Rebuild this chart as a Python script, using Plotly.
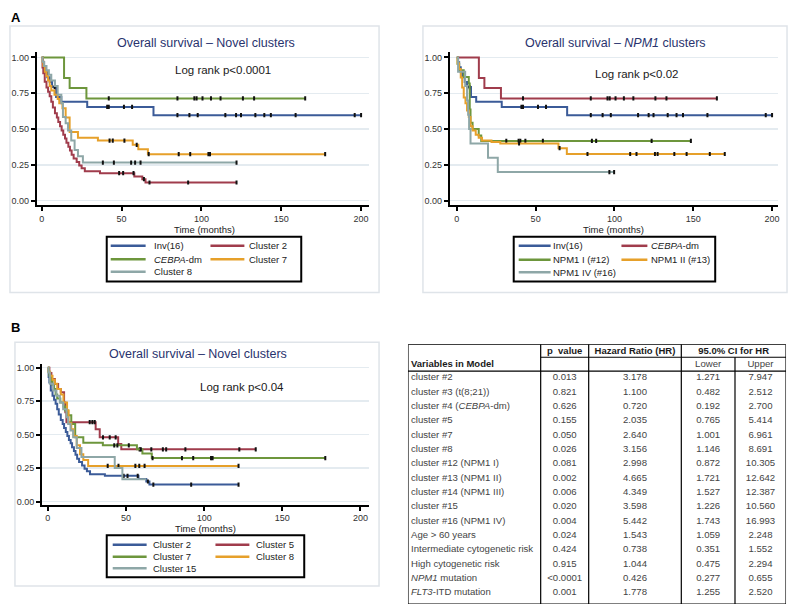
import numpy as np
import plotly.graph_objects as go

W, H = 800, 612

# ---------------- DATA ----------------
# Kaplan-Meier step data: event times (months) and survival after each step
inv16_t = [0, 0.8, 1.5, 2.5, 3.5, 5, 6.5, 9, 12.3, 28.5, 70]
inv16_s = [1.0, 0.966, 0.931, 0.897, 0.862, 0.828, 0.793, 0.724, 0.69, 0.655, 0.597]
inv16_c = [8.1, 41.0, 42.0, 51.5, 56.6, 85, 92.5, 97.7, 115, 121.7, 124.8, 133.8, 139.4, 143.5, 159, 196, 200]
inv16_last = 200

cebpa_t = [0, 14, 17.5, 28]
cebpa_s = [1.0, 0.857, 0.786, 0.714]
cebpa_c = [42, 85, 95.6, 97, 100.7, 106, 112, 126, 133, 165]
cebpa_last = 165

cl2_t = [0, 0.5, 1, 1.9, 3, 4, 5, 6, 7, 8.3, 9.5, 10.4, 11.5, 12.5, 13.5, 14.6, 15.5, 16.7,
         17.7, 18.75, 20, 21.9, 23.5, 25, 27, 36.5, 58, 63, 65]
cl2_s = [1.0, 0.93, 0.89, 0.83, 0.79, 0.76, 0.73, 0.69, 0.65, 0.61, 0.58, 0.55, 0.52, 0.49, 0.46,
         0.435, 0.405, 0.377, 0.35, 0.32, 0.295, 0.27, 0.245, 0.227, 0.205, 0.192, 0.169, 0.15, 0.127]
cl2_c = [48.5, 51, 57.5, 64, 67.5, 91.7, 122]
cl2_last = 122

cl7_t = [0, 0.5, 1, 2, 3, 4, 5, 6, 8, 10, 11, 13, 15, 17.5, 22.7, 35.2, 57, 60.5, 66.5]
cl7_s = [1.0, 0.97, 0.94, 0.9, 0.87, 0.84, 0.8, 0.77, 0.74, 0.71, 0.68, 0.645, 0.58, 0.48, 0.44,
         0.42, 0.39, 0.36, 0.325]
cl7_c = [42.5, 44.5, 51.8, 59.5, 67, 85.8, 93, 104.4, 105.4, 177.5]
cl7_last = 177.5

cl8_t = [0, 0.5, 1.5, 3, 4.5, 6, 8.3, 10, 12.3, 13.3, 15, 16.5, 18.5, 20.6, 22.7, 25.8]
cl8_s = [1.0, 0.97, 0.94, 0.91, 0.88, 0.84, 0.8, 0.74, 0.68, 0.585, 0.54, 0.49, 0.42, 0.354, 0.31, 0.266]
cl8_c = [38.3, 45.2, 56, 58.5, 61.9, 122]
cl8_last = 122

cl5_t = [0, 1, 2.3, 4.5, 6.6, 8.3, 10.4, 11.2, 11.9, 30.6, 33.2, 45, 47]
cl5_s = [1.0, 0.96, 0.915, 0.878, 0.84, 0.816, 0.74, 0.667, 0.593, 0.54, 0.48, 0.43, 0.39]
cl5_c = [26.8, 28.5, 30, 35.3, 39.6, 43.4, 58.7, 66.2, 73.6, 75.7, 88, 122.5, 133]
cl5_last = 133

cl15_t = [0, 0.5, 1.3, 3.4, 5.5, 7.7, 9.8, 11.9, 13, 14.5, 16.2, 18.5, 21.5, 42.8, 47.7]
cl15_s = [1.0, 0.965, 0.88, 0.83, 0.79, 0.74, 0.69, 0.63, 0.58, 0.53, 0.48, 0.4, 0.332, 0.25, 0.166]
cl15_c = []
cl15_last = 63

npm1i_t = [0, 0.5, 1.5, 4.4, 7.6, 8.2, 8.7, 10, 13.9, 15.5]
npm1i_s = [1.0, 0.955, 0.91, 0.864, 0.818, 0.636, 0.545, 0.5, 0.455, 0.417]
npm1i_c = [31.4, 39.2, 40.3, 43.5, 54.6, 85.7, 88.4, 123.6, 148.5]
npm1i_last = 148.5

npm1ii_t = [0, 0.5, 1.4, 2.5, 3.4, 4.4, 5.5, 6.5, 7.6, 8.7, 10, 12, 13.9, 16, 22, 27.6, 64.5, 69.8]
npm1ii_s = [1.0, 0.96, 0.92, 0.86, 0.79, 0.72, 0.68, 0.63, 0.585, 0.52, 0.49, 0.46, 0.44, 0.42,
            0.41, 0.40, 0.367, 0.326]
npm1ii_c = [39.5, 65.2, 82.9, 110, 114, 125.7, 127.4, 138, 145.8, 160.5, 170]
npm1ii_last = 170

npm1iv_t = [0, 0.8, 5.3, 6.5, 7.2, 7.8, 8.7, 19.8, 26]
npm1iv_s = [1.0, 0.9, 0.8, 0.7, 0.6, 0.5, 0.4, 0.3, 0.2]
npm1iv_c = [96.8, 99.8]
npm1iv_last = 99.8

# Cox model table
table_header = ["p  value", "Hazard Ratio (HR)", "95.0% CI for HR"]
table_subheader = ["Lower", "Upper"]
variables = ["cluster #2", "cluster #3 (t(8;21))", "cluster #4 (<i>CEBPA</i>-dm)", "cluster #5",
             "cluster #7", "cluster #8", "cluster #12 (NPM1 I)", "cluster #13 (NPM1 II)",
             "cluster #14 (NPM1 III)", "cluster #15", "cluster #16 (NPM1 IV)", "Age &gt; 60 years",
             "Intermediate cytogenetic risk", "High cytogenetic risk", "<i>NPM1</i> mutation",
             "<i>FLT3</i>-ITD mutation"]
p_values = ["0.013", "0.821", "0.626", "0.155", "0.050", "0.026", "0.081", "0.002", "0.006",
            "0.020", "0.004", "0.024", "0.424", "0.915", "&lt;0.0001", "0.001"]
hazard_ratio = ["3.178", "1.100", "0.720", "2.035", "2.640", "3.156", "2.998", "4.665", "4.349",
                "3.598", "5.442", "1.543", "0.738", "1.044", "0.426", "1.778"]
ci_lower = ["1.271", "0.482", "0.192", "0.765", "1.001", "1.146", "0.872", "1.721", "1.527",
            "1.226", "1.743", "1.059", "0.351", "0.475", "0.277", "1.255"]
ci_upper = ["7.947", "2.512", "2.700", "5.414", "6.961", "8.691", "10.305", "12.642", "12.387",
            "10.560", "16.993", "2.248", "1.552", "2.294", "0.655", "2.520"]

x_ticks = [0, 50, 100, 150, 200]
y_ticks = [0, 0.25, 0.5, 0.75, 1.0]

# ---------------- STYLE ----------------
BLUE, RED, GREEN, ORANGE, GRAY = "#3b5b98", "#a03c4c", "#6d963c", "#e6a02a", "#8ea7a7"
FONT = "Arial, Liberation Sans, sans-serif"
NAVY = "#29336e"

panels = [
    dict(ax="", title="Overall survival – Novel clusters", logrank="Log rank p&lt;0.0001",
         series=[("Inv(16)", inv16_t, inv16_s, inv16_c, inv16_last, BLUE),
                 ("Cluster 2", cl2_t, cl2_s, cl2_c, cl2_last, RED),
                 ("<i>CEBPA</i>-dm", cebpa_t, cebpa_s, cebpa_c, cebpa_last, GREEN),
                 ("Cluster 7", cl7_t, cl7_s, cl7_c, cl7_last, ORANGE),
                 ("Cluster 8", cl8_t, cl8_s, cl8_c, cl8_last, GRAY)],
         xdom=(37, 370), ydom=(51.7, 205), xr=[-3, 205], yr=[-0.03, 1.035],
         box=(10, 25, 380, 293), title_xy=(207, 42), lr_xy=(224, 69), xt_xy=(205, 229.5),
         leg=dict(box=(107, 237, 302, 282), lines=[(111, 146), (211, 245)], text=[153, 249],
                  rows=[246, 259.5, 272])),
    dict(ax="2", title="Overall survival – <i>NPM1</i> clusters", logrank="Log rank p&lt;0.02",
         series=[("Inv(16)", inv16_t, inv16_s, inv16_c, inv16_last, BLUE),
                 ("<i>CEBPA</i>-dm", cebpa_t, cebpa_s, cebpa_c, cebpa_last, RED),
                 ("NPM1 I (#12)", npm1i_t, npm1i_s, npm1i_c, npm1i_last, GREEN),
                 ("NPM1 II (#13)", npm1ii_t, npm1ii_s, npm1ii_c, npm1ii_last, ORANGE),
                 ("NPM1 IV (#16)", npm1iv_t, npm1iv_s, npm1iv_c, npm1iv_last, GRAY)],
         xdom=(451, 780), ydom=(51.7, 205), xr=[-4.4, 203.8], yr=[-0.03, 1.035],
         box=(424, 25, 789, 293), title_xy=(617, 42), lr_xy=(638, 73), xt_xy=(615, 229.5),
         leg=dict(box=(515, 237, 717, 282), lines=[(520, 552), (623, 649)], text=[553, 652],
                  rows=[246, 260, 272.5])),
    dict(ax="3", title="Overall survival – Novel clusters", logrank="Log rank p&lt;0.04",
         series=[("Cluster 2", cl2_t, cl2_s, cl2_c, cl2_last, BLUE),
                 ("Cluster 5", cl5_t, cl5_s, cl5_c, cl5_last, RED),
                 ("Cluster 7", cl7_t, cl7_s, cl7_c, cl7_last, GREEN),
                 ("Cluster 8", cl8_t, cl8_s, cl8_c, cl8_last, ORANGE),
                 ("Cluster 15", cl15_t, cl15_s, cl15_c, cl15_last, GRAY)],
         xdom=(42.3, 370), ydom=(365, 506), xr=[-3.6, 205.5], yr=[-0.022, 1.026],
         box=(15, 343, 380, 588), title_xy=(198, 355), lr_xy=(243, 388), xt_xy=(206, 530),
         leg=dict(box=(107, 537, 305, 579), lines=[(113, 147), (216, 250)], text=[152, 256],
                  rows=[546.5, 558.5, 570])),
]


def px(x):
    return x / W


def py(y):
    return 1 - y / H


def surv_at(times, surv, t):
    idx = np.searchsorted(np.asarray(times), np.asarray(t, dtype=float), side="right") - 1
    return np.asarray(surv)[idx]


def note(text, x, y, size, color, xanchor="center", **kw):
    return dict(text=text, x=px(x), y=py(y), xref="paper", yref="paper", showarrow=False,
                xanchor=xanchor, yanchor="middle", borderpad=0,
                font=dict(size=size, color=color, family=FONT), **kw)


fig = go.Figure()
shapes, annotations = [], []
layout_axes = {}

for p in panels:
    a = p["ax"]
    xa, ya = "x" + a, "y" + a
    # panel frame
    x0, y0, x1, y1 = p["box"]
    shapes.append(dict(type="rect", xref="paper", yref="paper", x0=px(x0), x1=px(x1),
                       y0=py(y1), y1=py(y0), line=dict(color="#dfe4e9", width=1.5),
                       fillcolor="white", layer="below"))
    for name, t, s, c, last, col in p["series"]:
        fig.add_trace(go.Scatter(x=list(t) + [last], y=list(s) + [s[-1]], mode="lines",
                                 line=dict(color=col, width=2, shape="hv"), xaxis=xa, yaxis=ya,
                                 hoverinfo="skip", name=name))
        if len(c):
            fig.add_trace(go.Scatter(x=c, y=surv_at(t, s, c), mode="markers", xaxis=xa, yaxis=ya,
                                     marker=dict(symbol="line-ns", size=3,
                                                 line=dict(width=2, color="#111")),
                                     hoverinfo="skip"))
    axcommon = dict(showline=True, linecolor="black", linewidth=2, ticks="outside", ticklen=4,
                    tickwidth=2, tickcolor="black", zeroline=False, fixedrange=True,
                    tickfont=dict(size=9, color="#333", family=FONT))
    layout_axes["xaxis" + a] = dict(axcommon, domain=[px(p["xdom"][0]), px(p["xdom"][1])],
                                    range=p["xr"], tickvals=x_ticks, showgrid=False,
                                    anchor=ya)
    layout_axes["yaxis" + a] = dict(axcommon, domain=[py(p["ydom"][1]), py(p["ydom"][0])],
                                    range=p["yr"], tickvals=y_ticks, tickformat=".2f",
                                    showgrid=True, gridcolor="#e4ebf0", gridwidth=1.5,
                                    anchor=xa)
    # titles and texts
    annotations.append(note(p["title"], *p["title_xy"], 12.5, NAVY))
    annotations.append(note(p["logrank"], *p["lr_xy"], 11.5, "#1a1a1a"))
    annotations.append(note("Time (months)", *p["xt_xy"], 9.5, "#222"))
    # legend box
    lg = p["leg"]
    bx0, by0, bx1, by1 = lg["box"]
    shapes.append(dict(type="rect", xref="paper", yref="paper", x0=px(bx0), x1=px(bx1),
                       y0=py(by1), y1=py(by0), line=dict(color="black", width=2)))
    for k, (name, t, s, c, last, col) in enumerate(p["series"]):
        r, cc = divmod(k, 2)
        ly = lg["rows"][r]
        lx0, lx1 = lg["lines"][cc]
        shapes.append(dict(type="line", xref="paper", yref="paper", x0=px(lx0), x1=px(lx1),
                           y0=py(ly), y1=py(ly), line=dict(color=col, width=2.5)))
        annotations.append(note(name, lg["text"][cc], ly, 9.5, "#222", xanchor="left"))

# panel letters
for letter, (lx, ly) in [("A", (10, 17)), ("B", (10, 328))]:
    annotations.append(note("<b>%s</b>" % letter, lx, ly, 13, "black", xanchor="left"))

# ---------------- TABLE ----------------
col_edges = [0, 0.351, 0.478, 0.723, 0.865, 1.0]
centers = [(col_edges[i] + col_edges[i + 1]) / 2 for i in range(5)]
n = len(variables)
rows_y = [i + 0.5 for i in range(n)]
tfont = dict(size=9.6, color="#444", family=FONT)
hfont = dict(size=9.5, color="#1a1a1a", family=FONT)
fig.add_trace(go.Scatter(x=[0.008] * n, y=rows_y, text=variables, mode="text",
                         textposition="middle right", textfont=tfont, xaxis="x4", yaxis="y4",
                         hoverinfo="skip", cliponaxis=False))
for ci, col in zip(range(1, 5), [p_values, hazard_ratio, ci_lower, ci_upper]):
    fig.add_trace(go.Scatter(x=[centers[ci]] * n, y=rows_y, text=col, mode="text",
                             textposition="middle center", textfont=tfont, xaxis="x4",
                             yaxis="y4", hoverinfo="skip", cliponaxis=False))
hdr_x = [centers[1], centers[2], (col_edges[3] + col_edges[5]) / 2]
fig.add_trace(go.Scatter(x=hdr_x, y=[-1.36] * 3, text=["<b>%s</b>" % h for h in table_header],
                         mode="text", textposition="middle center", textfont=hfont, xaxis="x4",
                         yaxis="y4", hoverinfo="skip", cliponaxis=False))
fig.add_trace(go.Scatter(x=[centers[3], centers[4]], y=[-0.42, -0.42], text=table_subheader,
                         mode="text", textposition="middle center", textfont=tfont,
                         xaxis="x4", yaxis="y4", hoverinfo="skip", cliponaxis=False))
fig.add_trace(go.Scatter(x=[0.008], y=[-0.42], text=["<b>Variables in Model</b>"], mode="text",
                         textposition="middle right", textfont=hfont, xaxis="x4", yaxis="y4",
                         hoverinfo="skip", cliponaxis=False))
ytop, ybot, ymid = -1.85, 16.275, -0.947
tl = dict(color="black", width=1.2)
shapes.append(dict(type="rect", xref="x4", yref="y4", x0=0, x1=1, y0=ytop, y1=ybot, line=tl))
for e in col_edges[1:4]:
    shapes.append(dict(type="line", xref="x4", yref="y4", x0=e, x1=e, y0=ytop, y1=ybot, line=tl))
shapes.append(dict(type="line", xref="x4", yref="y4", x0=col_edges[4], x1=col_edges[4],
                   y0=ymid, y1=ybot, line=tl))
shapes.append(dict(type="line", xref="x4", yref="y4", x0=col_edges[1], x1=1, y0=ymid, y1=ymid,
                   line=tl))
shapes.append(dict(type="line", xref="x4", yref="y4", x0=0, x1=1, y0=0.02, y1=0.02, line=tl))

layout_axes["xaxis4"] = dict(domain=[px(409), px(788)], range=[0, 1], visible=False,
                             anchor="y4", fixedrange=True)
layout_axes["yaxis4"] = dict(domain=[py(606), py(345)], range=[ybot, ytop], visible=False,
                             anchor="x4", fixedrange=True)

fig.update_layout(width=W, height=H, margin=dict(l=0, r=0, t=0, b=0), showlegend=False,
                  paper_bgcolor="white", plot_bgcolor="rgba(0,0,0,0)", shapes=shapes,
                  annotations=annotations, font=dict(family=FONT), hovermode=False,
                  **layout_axes)

fig.write_html("out.html", config={"displayModeBar": False, "staticPlot": True},
               post_script="document.body.style.margin='0';document.body.style.overflow='hidden';")
